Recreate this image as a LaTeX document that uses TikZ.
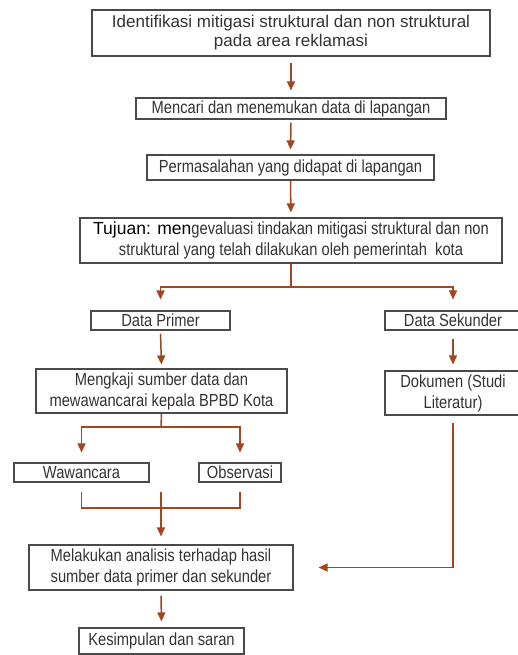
\documentclass[tikz,border=0pt]{standalone}
\usepackage{fontspec}
\setmainfont{Liberation Sans}
\newfontfamily\cond[FakeStretch=0.84]{Liberation Sans}
\newfontfamily\reg{Liberation Sans}
\usetikzlibrary{arrows.meta}
\definecolor{arrc}{HTML}{A3461F}
\definecolor{txtc}{HTML}{333333}
\definecolor{boxc}{HTML}{4A4A4A}
\tikzset{
  box/.style={draw=boxc, line width=1.1pt, fill=white, inner sep=0pt, align=center, text=txtc, font=\cond\fontsize{17.5}{21}\selectfont},
  ln/.style={draw=arrc, line width=1.5pt},
  arr/.style={ln, -{Triangle[length=9pt,width=8pt]}}
}
\begin{document}
\begin{tikzpicture}[x=1pt,y=-1pt]
\useasboundingbox (0,0) rectangle (517,655);
\fill[white] (0,0) rectangle (517,655);
\node[box, minimum width=398, minimum height=46, font=\reg\fontsize{17}{19}\selectfont] (b1) at (291,33) {Identifikasi mitigasi struktural dan non struktural\\pada area reklamasi};
\node[box, minimum width=310, minimum height=21] (b2) at (291,108.5) {Mencari dan menemukan data di lapangan};
\node[box, minimum width=287, minimum height=25] (b3) at (290.5,167.5) {Permasalahan yang didapat di lapangan};
\node[box, minimum width=422, minimum height=45] (b4) at (291,240.5) {{\reg\color{black}Tujuan: men}gevaluasi tindakan mitigasi struktural dan non\\struktural yang telah dilakukan oleh pemerintah\ \ kota};
\node[box, minimum width=139, minimum height=19] (dp) at (160.5,320.5) {Data Primer};
\node[box, minimum width=136, minimum height=19] (ds) at (453,320.5) {Data Sekunder};
\node[box, minimum width=251, minimum height=44] (mk) at (161.5,391) {Mengkaji sumber data dan\\mewawancarai kepala BPBD Kota};
\node[box, minimum width=136, minimum height=44] (dok) at (453,393) {Dokumen (Studi\\Literatur)};
\node[box, minimum width=135, minimum height=19] (ww) at (81.5,472.5) {Wawancara};
\node[box, minimum width=82, minimum height=19] (ob) at (240,472.5) {Observasi};
\node[box, minimum width=264, minimum height=45] (ml) at (161,567.5) {Melakukan analisis terhadap hasil\\sumber data primer dan sekunder};
\node[box, minimum width=165, minimum height=26] (ks) at (161.5,641) {Kesimpulan dan saran};
\coordinate (j1) at (291,287);
\coordinate (j2) at (161,427);
\coordinate (j3) at (161,508);
\coordinate (j4) at (161,492);
\draw[arr, shorten <=6pt, shorten >=7pt] (b1.south) -- (b2.north);
\draw[arr, shorten <=3pt, shorten >=5pt] (b2.south) -- (b3.north);
\draw[arr, shorten >=5pt] (b3.south) -- (b4.north);
\draw[ln] (b4.south) -- (j1);
\draw[arr, shorten >=11pt] (j1) -| (dp.north);
\draw[arr, shorten >=11pt] (j1) -| (ds.north);
\draw[arr, shorten <=3pt, shorten >=4pt] (dp.south) -- (mk.north);
\draw[arr, shorten <=8pt, shorten >=6pt] (ds.south) -- (dok.north);
\draw[ln] (mk.south) -- (j2);
\draw[arr, shorten >=10pt] (j2) -| (ww.north);
\draw[arr, shorten >=10pt] (j2) -| (ob.north);
\draw[ln, shorten <=9pt, shorten >=9pt] (ww.south) |- (j3) -| (ob.south);
\draw[arr, shorten >=8pt] (j4) -- (ml.north);
\draw[arr, shorten <=7pt, shorten >=25pt] (dok.south) |- (ml.east);
\draw[arr, shorten <=5pt, shorten >=6pt] (ml.south) -- (ks.north);
\end{tikzpicture}
\end{document}
